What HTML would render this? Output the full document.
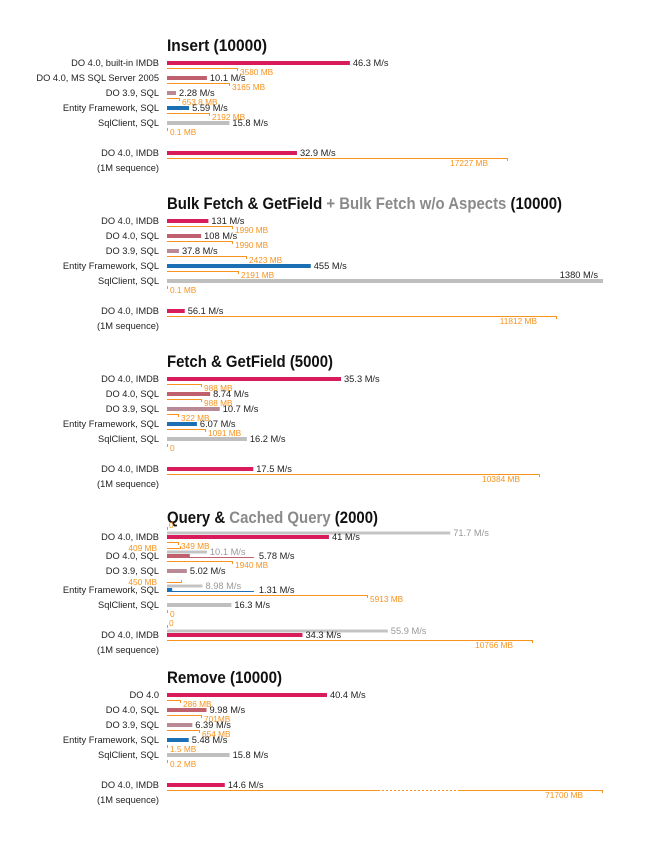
<!DOCTYPE html>
<html><head><meta charset="utf-8"><style>
html,body{margin:0;padding:0;background:#fff;}
svg{display:block;font-family:"Liberation Sans",sans-serif;}
</style></head><body>
<svg id="c" width="656" height="850" viewBox="0 0 656 850"></svg>
<script>
// ---- data ----
const insertLabels=["DO 4.0, built-in IMDB","DO 4.0, MS SQL Server 2005","DO 3.9, SQL","Entity Framework, SQL","SqlClient, SQL","DO 4.0, IMDB"];
const insertSpeed=[46.3,10.1,2.28,5.59,15.8,32.9];
const insertSpeedText=["46.3 M/s","10.1 M/s","2.28 M/s","5.59 M/s","15.8 M/s","32.9 M/s"];
const insertMem=[3580,3165,653.8,2192,0.1,17227];
const insertMemText=["3580 MB","3165 MB","653.8 MB","2192 MB","0.1 MB","17227 MB"];

const bulkLabels=["DO 4.0, IMDB","DO 4.0, SQL","DO 3.9, SQL","Entity Framework, SQL","SqlClient, SQL","DO 4.0, IMDB"];
const bulkSpeed=[131,108,37.8,455,1380,56.1];
const bulkSpeedText=["131 M/s","108 M/s","37.8 M/s","455 M/s","1380 M/s","56.1 M/s"];
const bulkMem=[1990,1990,2423,2191,0.1,11812];
const bulkMemText=["1990 MB","1990 MB","2423 MB","2191 MB","0.1 MB","11812 MB"];

const fetchLabels=["DO 4.0, IMDB","DO 4.0, SQL","DO 3.9, SQL","Entity Framework, SQL","SqlClient, SQL","DO 4.0, IMDB"];
const fetchSpeed=[35.3,8.74,10.7,6.07,16.2,17.5];
const fetchSpeedText=["35.3 M/s","8.74 M/s","10.7 M/s","6.07 M/s","16.2 M/s","17.5 M/s"];
const fetchMem=[988,988,322,1091,0,10384];
const fetchMemText=["988 MB","988 MB","322 MB","1091 MB","0","10384 MB"];

const queryLabels=["DO 4.0, IMDB","DO 4.0, SQL","DO 3.9, SQL","Entity Framework, SQL","SqlClient, SQL","DO 4.0, IMDB"];
const querySpeed=[41,5.78,5.02,1.31,16.3,34.3];
const querySpeedText=["41 M/s","5.78 M/s","5.02 M/s","1.31 M/s","16.3 M/s","34.3 M/s"];
const querySpeedRange=[null,22,null,22,null,null];
const queryMem=[349,1940,null,5913,0,10766];
const queryMemText=["349 MB","1940 MB","","5913 MB","0","10766 MB"];
const queryCached=[71.7,10.1,null,8.98,null,55.9];
const queryCachedText=["71.7 M/s","10.1 M/s","","8.98 M/s","","55.9 M/s"];
const queryCachedMem=[0,409,null,450,null,0];
const queryCachedMemText=["0","409 MB","","450 MB","","0"];

const removeLabels=["DO 4.0","DO 4.0, SQL","DO 3.9, SQL","Entity Framework, SQL","SqlClient, SQL","DO 4.0, IMDB"];
const removeSpeed=[40.4,9.98,6.39,5.48,15.8,14.6];
const removeSpeedText=["40.4 M/s","9.98 M/s","6.39 M/s","5.48 M/s","15.8 M/s","14.6 M/s"];
const removeMem=[286,701,654,1.5,0.2,71700];
const removeMemText=["286 MB","701MB","654 MB","1.5 MB","0.2 MB","71700 MB"];

// ---- rendering ----
const svg=document.getElementById('c');
const NS='http://www.w3.org/2000/svg';
const X0=167, MAXW=436;
const colors=["#d81b5a","#c0606e","#b98a96","#1a6fb5","#bfbfbf","#d81b5a"];
const ORANGE="#f7931e";
const LF=9.3, MF=8.3;
function el(tag,attrs,parent){const e=document.createElementNS(NS,tag);for(const k in attrs)e.setAttribute(k,attrs[k]);(parent||svg).appendChild(e);return e;}
function txt(x,y,s,size,fill,anchor,parent,weight){const t=el('text',{x:x,y:y,'font-size':size,fill:fill,'text-anchor':anchor||'start'},parent);if(weight)t.setAttribute('font-weight',weight);t.textContent=s;return t;}

function memLine(g,y,v,scale,label,cap){
  let w=Math.max(1,Math.round(v*scale)); let broken=false;
  if(cap && w>MAXW){w=MAXW;broken=true;}
  const ly=y+0.5;
  const line=el('line',{x1:X0,y1:ly,x2:X0+w,y2:ly,stroke:ORANGE,'stroke-width':1},g);
  
  
  if(broken){el('line',{x1:X0+211,y1:ly,x2:X0+291,y2:ly,stroke:'#fff','stroke-width':1.5},g);el('line',{x1:X0+211,y1:ly,x2:X0+291,y2:ly,stroke:ORANGE,'stroke-width':1,'stroke-dasharray':'2,2'},g);}
  el('line',{x1:X0+w-0.5,y1:y,x2:X0+w-0.5,y2:y+3,stroke:ORANGE,'stroke-width':1},g);
  let t;
  if(w>300) t=txt(X0+w-20,y+8,label,MF,ORANGE,'end',g);
  else t=txt(X0+w+2,y+7,label,MF,ORANGE,'start',g);
  
  
}
function bar(g,y,v,scale,color,label,h){
  const w=Math.min(MAXW,v*scale);
  const r=el('rect',{x:X0,y:y-h/2,width:w,height:h,fill:color},g);
  
  
  const full=w>MAXW-30;
  const t=txt(full?X0+w-5:X0+w+3,y+(full?-3:3),label,LF,'#222',full?'end':'start',g);
  
  
  return w;
}
function title(g,y,parts,len){
  const t=el('text',{x:X0,y:y,'font-size':16.5,'font-weight':'bold'},g);
  
  
  parts.forEach(p=>{const s=el('tspan',{fill:p[1]},t);s.textContent=p[0];});
  t.setAttribute('textLength',len); t.setAttribute('lengthAdjust','spacingAndGlyphs');
  return t;
}
function rowLabel(g,y,lb,i){
  const l=txt(159,y+3,lb,LF,'#222','end',g);
  
  
  if(i===5){const l2=txt(159,y+18,'(1M sequence)',LF,'#222','end',g);}
}
function panel(name,titleY,titleParts,titleLen,rowYs,labels,speed,speedText,mem,memText,sScale,mScale,cap){
  const g=el('g',{});
  
  
  title(g,titleY,titleParts,titleLen);
  labels.forEach((lb,i)=>{
    const y=rowYs[i];
    rowLabel(g,y,lb,i);
    bar(g,y,speed[i],sScale,colors[i],speedText[i],4);
    memLine(g,y+5,mem[i],mScale,memText[i],cap);
  });
}
const std=(a)=>[a,a+15,a+30,a+45,a+60,a+90];
panel('insert-panel',51,[["Insert (10000)","#111"]],100,std(63),insertLabels,insertSpeed,insertSpeedText,insertMem,insertMemText,3.95,0.0198,false);
panel('bulk-fetch-panel',209,[["Bulk Fetch & GetField ","#111"],["+ Bulk Fetch w/o Aspects ","#8a8a8a"],["(10000)","#111"]],395,std(221),bulkLabels,bulkSpeed,bulkSpeedText,bulkMem,bulkMemText,0.316,0.033,false);
panel('fetch-panel',367,[["Fetch & GetField (5000)","#111"]],166,std(379),fetchLabels,fetchSpeed,fetchSpeedText,fetchMem,fetchMemText,4.93,0.0359,false);
panel('remove-panel',683,[["Remove (10000)","#111"]],115,std(695),removeLabels,removeSpeed,removeSpeedText,removeMem,removeMemText,3.96,0.05,true);

// Query panel (with cached series)
(function(){
  const g=el('g',{});
  
  
  title(g,523,[["Query & ","#111"],["Cached Query ","#8a8a8a"],["(2000)","#111"]],211);
  const rowYs=[537,556,571,590,605,635];
  const sS=3.95,mS=0.034;
  queryLabels.forEach((lb,i)=>{
    const y=rowYs[i];
    rowLabel(g,y,lb,i);
    if(queryCached[i]!==null){
      const cy=y-4;
      const w=queryCached[i]*sS;
      const r=el('rect',{x:X0,y:cy-1.5,width:w,height:3,fill:'#c4c4c4'},g);
      
      
      const ct=txt(X0+w+3,cy+3,queryCachedText[i],LF,'#999','start',g);
      
      
      const my=cy-4;
      const mw=Math.max(1,Math.round(queryCachedMem[i]*mS));
      el('line',{x1:X0,y1:my+0.5,x2:X0+mw,y2:my+0.5,stroke:ORANGE,'stroke-width':1},g);
      el('line',{x1:X0+mw-0.5,y1:my+1,x2:X0+mw-0.5,y2:my-2,stroke:ORANGE,'stroke-width':1},g);
      const mt = queryCachedMem[i]===0 ? txt(X0+2,my-1,queryCachedMemText[i],MF,ORANGE,'start',g) : txt(X0-10,my+3,queryCachedMemText[i],MF,ORANGE,'end',g);
      
      
    }
    if(querySpeedRange[i]!==null){
      const w=querySpeed[i]*sS, rw=querySpeedRange[i]*sS;
      const r=el('rect',{x:X0,y:y-2,width:w,height:4,fill:colors[i]},g);
      
      
      el('line',{x1:X0,y1:y+1.5,x2:X0+rw,y2:y+1.5,stroke:colors[i],'stroke-width':1},g);
      const t=txt(X0+rw+5,y+3,querySpeedText[i],LF,'#222','start',g);
      
      
    } else {
      bar(g,y,querySpeed[i],sS,colors[i],querySpeedText[i],4);
    }
    if(queryMem[i]!==null) memLine(g,y+5,queryMem[i],mS,queryMemText[i],false);
  });
})();
</script>
</body></html>
